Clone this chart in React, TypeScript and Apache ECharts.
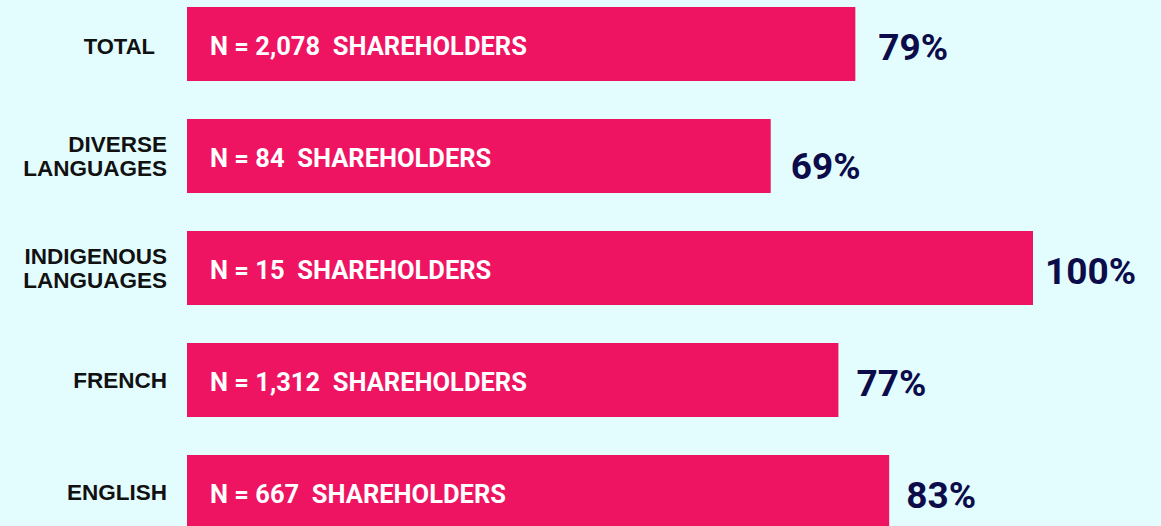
import React, { useEffect, useRef } from "react";
import * as echarts from "echarts";

const categories = ["TOTAL", "DIVERSE\nLANGUAGES", "INDIGENOUS\nLANGUAGES", "FRENCH", "ENGLISH"];
const percentages = [79, 69, 100, 77, 83];
const shareholders = ["2,078", "84", "15", "1,312", "667"];

const BG = "#e3fdfe";
const PINK = "#ee1462";
const NAVY = "#0c0c4a";

export default function App() {
  const ref = useRef<HTMLDivElement>(null);

  useEffect(() => {
    document.body.style.margin = "0";
    const chart = echarts.init(ref.current!, null, { renderer: "svg" });
    const pctOffsets: Record<number, [number, number]> = {
      0: [5, 3],
      1: [2, 10],
      2: [-6, 3],
      3: [0, 3],
      4: [-1, 3],
    };
    chart.setOption({
      animation: false,
      backgroundColor: BG,
      grid: { left: 187, right: 128, top: 0, bottom: 0 },
      xAxis: {
        type: "value",
        min: 0,
        max: 100,
        show: false,
      },
      yAxis: {
        type: "category",
        inverse: true,
        data: categories,
        axisLine: { show: false },
        axisTick: { show: false },
        splitLine: { show: false },
        axisLabel: {
          margin: 20,
          color: "#111111",
          fontFamily: "'Liberation Sans', Arial, sans-serif",
          fontWeight: "bold",
          fontSize: 22.5,
          lineHeight: 24,
          align: "right",
          formatter: (v: string) => (v === "TOTAL" ? "{t|" + v + "}" : v),
          rich: {
            t: {
              color: "#111111",
              fontFamily: "'Liberation Sans', Arial, sans-serif",
              fontWeight: "bold",
              fontSize: 22,
              padding: [4, 12, 0, 0],
            },
          },
        },
      },
      series: [
        {
          type: "bar",
          data: percentages,
          barWidth: 74,
          itemStyle: { color: PINK },
          label: {
            show: true,
            position: "insideLeft",
            distance: 23,
            offset: [0, 2],
            color: "#ffffff",
            fontFamily: "Roboto, sans-serif",
            fontWeight: "bold",
            fontSize: 25.5,
            formatter: (p: any) => "N = " + shareholders[p.dataIndex] + "  SHAREHOLDERS",
          },
        },
        {
          type: "bar",
          data: percentages.map((v, i) => ({
            value: v,
            label: { offset: pctOffsets[i] },
          })),
          barWidth: 74,
          barGap: "-100%",
          itemStyle: { color: "rgba(0,0,0,0)" },
          label: {
            show: true,
            position: "right",
            distance: 18,
            color: NAVY,
            fontFamily: "Roboto, sans-serif",
            fontWeight: "bold",
            fontSize: 37,
            formatter: (p: any) => p.value + "%",
          },
        },
      ],
    });
    return () => chart.dispose();
  }, []);

  return (
    <div
      style={{
        position: "fixed",
        left: 0,
        top: 0,
        width: 1161,
        height: 526,
        overflow: "hidden",
        background: BG,
      }}
    >
      <div
        ref={ref}
        style={{ position: "absolute", left: 0, top: -12, width: 1161, height: 560 }}
      />
    </div>
  );
}
